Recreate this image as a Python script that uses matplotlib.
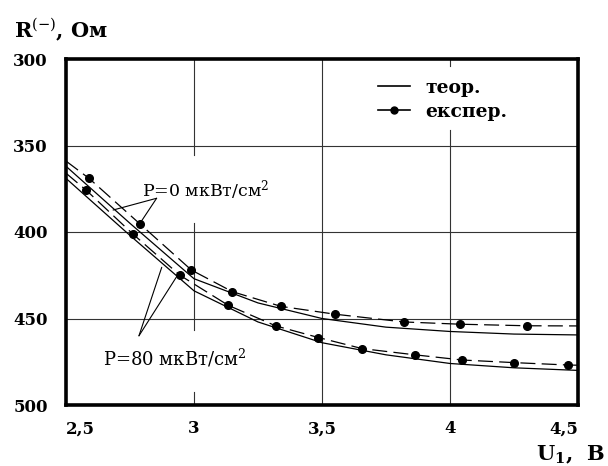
import matplotlib
matplotlib.use('Agg')
from matplotlib import pyplot as plt
from matplotlib.lines import Line2D

plt.rcParams['font.family'] = ['DejaVu Serif']
plt.rcParams['mathtext.fontset'] = 'dejavuserif'

# теоретичні криві (суцільні)
u_teor = [2.5, 2.75, 3.0, 3.25, 3.5, 3.75, 4.0, 4.25, 4.5]
r_teor_p0 = [362, 395, 427, 441, 450, 455, 457.5, 459, 459.5]
r_teor_p80 = [369, 402, 434, 452, 464, 471, 476, 478.5, 480]

# експеримент (штрихові з точками)
u_exp_p0 = [2.5, 2.59, 2.79, 2.99, 3.15, 3.34, 3.55, 3.82, 4.04, 4.30, 4.5]
r_exp_p0 = [359, 369, 395.5, 422, 434.5, 443, 447.5, 452, 453.3, 454.2, 454.3]
u_exp_p80 = [2.5, 2.58, 2.76, 2.945, 3.134, 3.32, 3.486, 3.657, 3.863, 4.048, 4.25, 4.462, 4.5]
r_exp_p80 = [366, 376, 401, 425, 442.4, 454.3, 461, 467.4, 471, 474, 475.5, 476.9, 477]

x_ticks = [2.5, 3, 3.5, 4, 4.5]
x_labels = ['2,5', '3', '3,5', '4', '4,5']
y_ticks = [300, 350, 400, 450, 500]

fig = plt.figure(figsize=(6.08, 4.66), dpi=100)
ax = fig.add_axes([66/608, 1-405/466, 512/608, 346/466])

# сітка (частково перервана під підписи)
grid_kw = dict(color='#333333', lw=0.8, zorder=1)
for y in [350, 400, 450]:
    ax.axhline(y, **grid_kw)
ax.axvline(3.5, **grid_kw)
for a, b in [(0.7225, 1), (0.217, 0.526), (0, 0.0376)]:
    ax.axvline(3, a, b, **grid_kw)
for a, b in [(0.98, 1), (0, 0.795)]:
    ax.axvline(4, a, b, **grid_kw)

# криві
ax.plot(u_teor, r_teor_p0, color='black', lw=0.9, zorder=3)
ax.plot(u_teor, r_teor_p80, color='black', lw=0.9, zorder=3)
n0 = len(u_exp_p0)
ax.plot(u_exp_p0, r_exp_p0, color='black', lw=0.9, dashes=(12, 5), zorder=3)
ax.plot(u_exp_p0[1:n0-1], r_exp_p0[1:n0-1], 'o', color='black', ms=5.5, zorder=4)
n80 = len(u_exp_p80)
ax.plot(u_exp_p80, r_exp_p80, color='black', lw=0.9, dashes=(12, 5), zorder=3)
ax.plot(u_exp_p80[1:n80-1], r_exp_p80[1:n80-1], 'o', color='black', ms=5.5, zorder=4)

ax.set_xlim(2.5, 4.5)
ax.set_ylim(500, 300)
ax.set_xticks(x_ticks)
ax.set_xticklabels(x_labels, fontsize=12, fontweight='bold')
ax.set_yticks(y_ticks)
ax.set_yticklabels([str(v) for v in y_ticks], fontsize=12, fontweight='bold')
ax.tick_params(length=0)
ax.tick_params(axis='x', pad=11)
ax.tick_params(axis='y', pad=13)
xl = ax.get_xticklabels()
xl[0].set_ha('left')
xl[-1].set_ha('right')
for s in ax.spines.values():
    s.set_linewidth(2.6)

# підписи кривих
ax.text(2.797, 375.7, 'P=0 мкВт/см$^{2}$', fontsize=12.5, va='center', ha='left')
line_kw = dict(arrowprops=dict(arrowstyle='-', lw=0.8, shrinkA=0, shrinkB=0, color='black'))
ax.annotate('', xy=(2.684, 387.3), xytext=(2.854, 380.5), **line_kw)
ax.annotate('', xy=(2.78, 397), xytext=(2.854, 380.5), **line_kw)

ax.text(2.645, 472.8, 'P=80 мкВт/см$^{2}$', fontsize=13, va='center', ha='left')
ax.annotate('', xy=(2.874, 420.4), xytext=(2.785, 460), **line_kw)
ax.annotate('', xy=(2.94, 424), xytext=(2.785, 460), **line_kw)

# легенда
handles = [
    Line2D([], [], color='black', lw=1.2),
    Line2D([], [], color='black', lw=1.2, marker='o', ms=5),
]
ax.legend(handles, ['теор.', 'експер.'], loc='upper left',
          bbox_to_anchor=(378/608, 1-79/466), bbox_transform=fig.transFigure,
          frameon=False, handlelength=1.7, handletextpad=0.8, labelspacing=0.3,
          borderpad=0, borderaxespad=0, prop=dict(size=13.5, weight='bold'))

fig.text(14/608, 1-37/466, 'R$^{\\mathrm{(-)}}$, Ом', fontsize=15, fontweight='bold', va='baseline')
fig.text(605/608, 1-460/466, 'U$_{\\mathbf{1}}$,  В', fontsize=15, fontweight='bold',
         va='baseline', ha='right')

fig.savefig('out.png', dpi=100)
